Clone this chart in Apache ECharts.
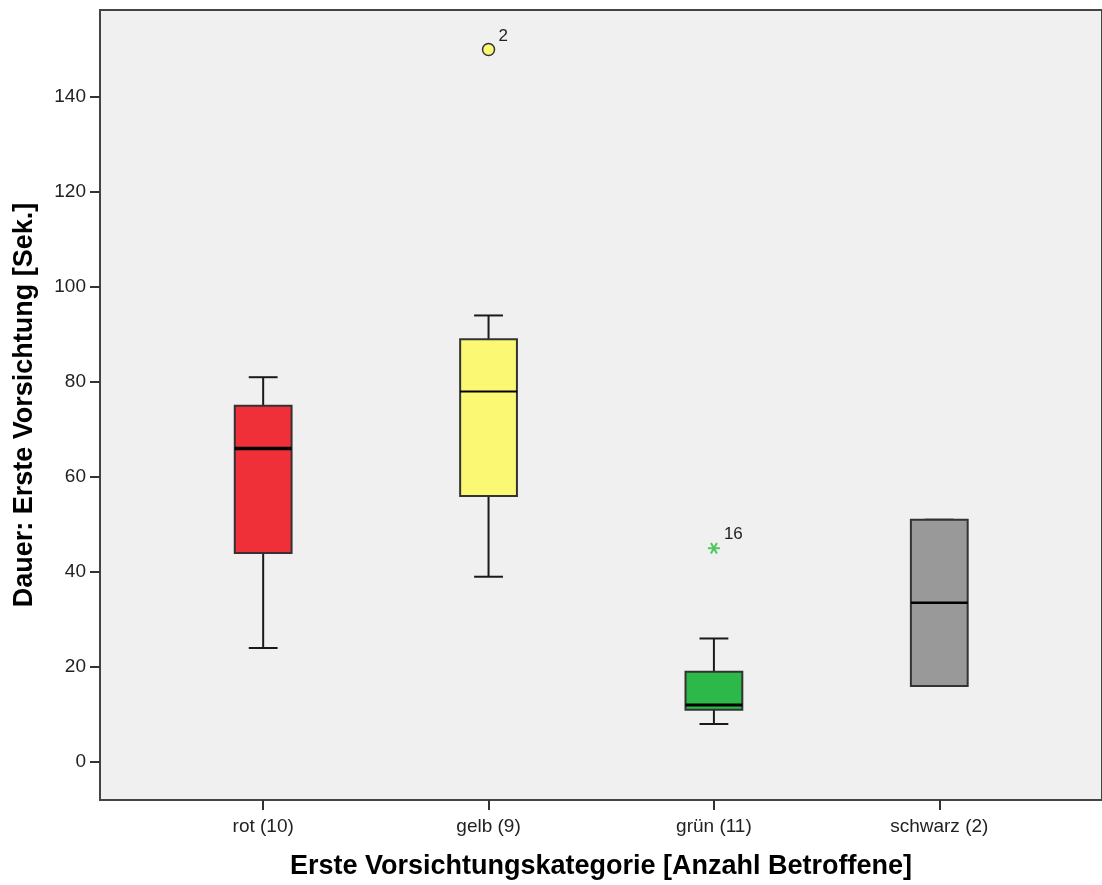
<!DOCTYPE html>
<html>
<head>
<meta charset="utf-8">
<script src="https://cdn.jsdelivr.net/npm/echarts@6/dist/echarts.min.js"></script>
<style>
html, body { margin: 0; padding: 0; background: #ffffff; }
#chart { width: 1102px; height: 885px; }
</style>
</head>
<body>
<div id="chart"></div>
<script>
const categories = ['rot (10)', 'gelb (9)', 'grün (11)', 'schwarz (2)'];
const whiskerLow = [24, 39, 8, 16];
const q1 = [44, 56, 11, 16];
const median = [66, 78, 12, 33.5];
const q3 = [75, 89, 19, 51];
const whiskerHigh = [81, 94, 26, 51];
const boxColors = ['#ef3039', '#fbf874', '#2db84a', '#999999'];
const medianWidths = [3.5, 2, 3, 2.5];

const outlierCategory = [1, 2];
const outlierValues = [150, 45];
const outlierIds = ['2', '16'];
const outlierKinds = ['circle', 'star'];

const yTicks = [0, 20, 40, 60, 80, 100, 120, 140];
const xTicks = [0, 1, 2, 3];

const boxData = categories.map((c, i) => [i, whiskerLow[i], q1[i], median[i], q3[i], whiskerHigh[i]]);
const outlierData = outlierValues.map((v, i) => [outlierCategory[i], v, i]);

const chart = echarts.init(document.getElementById('chart'), null, { renderer: 'canvas' });

const font = '"Liberation Sans", Arial, sans-serif';

function renderBox(params, api) {
  const i = params.dataIndex;
  const x = api.value(0);
  const lowP = api.coord([x, api.value(1)]);
  const q1P = api.coord([x, api.value(2)]);
  const medP = api.coord([x, api.value(3)]);
  const q3P = api.coord([x, api.value(4)]);
  const highP = api.coord([x, api.value(5)]);
  const boxW = api.size([0.252, 0])[0];
  const capW = api.size([0.128, 0])[0];
  const cx = lowP[0];
  const lineStyle = { stroke: '#1a1a1a', lineWidth: 2 };
  return {
    type: 'group',
    children: [
      { type: 'line', shape: { x1: cx, y1: q1P[1], x2: cx, y2: lowP[1] }, style: lineStyle },
      { type: 'line', shape: { x1: cx, y1: q3P[1], x2: cx, y2: highP[1] }, style: lineStyle },
      { type: 'line', shape: { x1: cx - capW / 2, y1: lowP[1], x2: cx + capW / 2, y2: lowP[1] }, style: lineStyle },
      { type: 'line', shape: { x1: cx - capW / 2, y1: highP[1], x2: cx + capW / 2, y2: highP[1] }, style: lineStyle },
      { type: 'rect', shape: { x: cx - boxW / 2, y: q3P[1], width: boxW, height: q1P[1] - q3P[1] },
        style: { fill: boxColors[i], stroke: '#333333', lineWidth: 2 } },
      { type: 'line', shape: { x1: cx - boxW / 2, y1: medP[1], x2: cx + boxW / 2, y2: medP[1] },
        style: { stroke: '#000000', lineWidth: medianWidths[i] } }
    ]
  };
}

function renderOutlier(params, api) {
  const idx = api.value(2);
  const p = api.coord([api.value(0), api.value(1)]);
  const kind = outlierKinds[idx];
  const children = [];
  if (kind === 'circle') {
    children.push({ type: 'circle', shape: { cx: p[0], cy: p[1], r: 6 },
      style: { fill: boxColors[1], stroke: '#333333', lineWidth: 1.5 } });
  } else {
    const r = 6;
    for (let k = 0; k < 3; k++) {
      const a = k * Math.PI / 3;
      children.push({ type: 'line', shape: { x1: p[0] - r * Math.cos(a), y1: p[1] - r * Math.sin(a), x2: p[0] + r * Math.cos(a), y2: p[1] + r * Math.sin(a) },
        style: { stroke: '#4cc95c', lineWidth: 2 } });
    }
  }
  children.push({ type: 'text', x: p[0] + 10, y: p[1] - 5,
    style: { text: outlierIds[idx], fill: '#222222', font: '17px ' + font, textAlign: 'left', textVerticalAlign: 'bottom' } });
  return { type: 'group', children };
}

const option = {
  animation: false,
  backgroundColor: '#ffffff',
  grid: {
    left: 100, top: 10, right: -4, bottom: 85,
    show: true, backgroundColor: '#f0f0f0', borderColor: '#444444', borderWidth: 2
  },
  xAxis: {
    type: 'value',
    min: -0.724,
    max: 3.722,
    splitLine: { show: false },
    axisLine: { show: true, onZero: false, lineStyle: { color: '#444444', width: 2 } },
    axisTick: { show: true, length: 10, lineStyle: { color: '#333333', width: 2 }, customValues: xTicks },
    axisLabel: {
      customValues: xTicks,
      formatter: v => categories[Math.round(v)] || '',
      color: '#222222', fontSize: 19, fontFamily: font, margin: 17
    },
    name: 'Erste Vorsichtungskategorie [Anzahl Betroffene]',
    nameLocation: 'middle',
    nameGap: 53,
    nameTextStyle: { fontSize: 27, fontWeight: 'bold', color: '#000000', fontFamily: font }
  },
  yAxis: {
    type: 'value',
    min: -8,
    max: 158.3,
    splitLine: { show: false },
    axisLine: { show: true, onZero: false, lineStyle: { color: '#444444', width: 2 } },
    axisTick: { show: true, length: 10, lineStyle: { color: '#333333', width: 2 }, customValues: yTicks },
    axisLabel: { customValues: yTicks, color: '#222222', fontSize: 19, fontFamily: font, margin: 14 },
    name: 'Dauer: Erste Vorsichtung [Sek.]',
    nameLocation: 'middle',
    nameGap: 62,
    nameTextStyle: { fontSize: 27, fontWeight: 'bold', color: '#000000', fontFamily: font }
  },
  series: [
    {
      type: 'custom',
      data: boxData,
      encode: { x: 0, y: [1, 2, 3, 4, 5] },
      renderItem: renderBox,
      clip: false
    },
    {
      type: 'custom',
      data: outlierData,
      encode: { x: 0, y: 1 },
      renderItem: renderOutlier,
      clip: false
    }
  ]
};

chart.setOption(option);
</script>
</body>
</html>
